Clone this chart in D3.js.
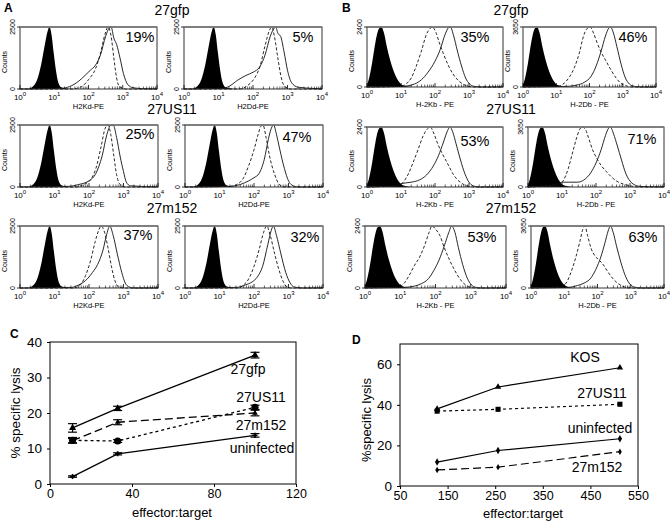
<!DOCTYPE html>
<html><head><meta charset="utf-8">
<script src="https://cdn.jsdelivr.net/npm/d3@7"></script>
<style>body{margin:0;background:#fff}svg{display:block;font-family:"Liberation Sans",Arial,sans-serif}</style>
</head><body>
<svg id="fig" width="670" height="521"></svg>
<script>
// ---------------- DATA ----------------
const rowTitles = ["27gfp", "27US11", "27m152"];
const pctA = ["19%", "5%", "25%", "47%", "37%", "32%"];
const pctB = ["35%", "46%", "53%", "71%", "53%", "63%"];
const xLabelsA = ["H2Kd-PE", "H2Dd-PE"];
const xLabelsB = ["H-2Kb - PE", "H-2Db - PE"];
const yMaxA = ["2500", "2500"];
const yMaxB = ["2400", "3650"];
const decades = [0, 1, 2, 3, 4];

// histogram curves: [log10 fluorescence, fraction of y max]
const isoA = [[0,0],[0.2,0],[0.35,0.03],[0.5,0.15],[0.62,0.4],[0.72,0.7],[0.8,0.92],[0.86,1],[0.92,0.88],[0.98,0.6],[1.05,0.3],[1.12,0.1],[1.2,0.03],[1.35,0.01],[1.6,0]];
const isoB = [[0,0.04],[0.05,0.12],[0.15,0.4],[0.25,0.75],[0.35,0.97],[0.42,1],[0.5,0.9],[0.58,0.68],[0.68,0.45],[0.78,0.27],[0.88,0.14],[0.98,0.06],[1.1,0.02],[1.3,0]];

const A1_dash = [[0,0],[1.5,0],[1.8,0.04],[2.0,0.15],[2.2,0.32],[2.35,0.58],[2.48,0.88],[2.57,1],[2.66,0.85],[2.74,0.5],[2.82,0.18],[2.9,0.04],[3.1,0],[4,0]];
const A1_solid = [[0,0],[1.2,0.01],[1.45,0.04],[1.7,0.12],[1.9,0.22],[2.05,0.3],[2.2,0.38],[2.35,0.55],[2.5,0.85],[2.6,0.98],[2.66,1],[2.74,0.82],[2.82,0.72],[2.92,0.5],[3.02,0.25],[3.15,0.07],[3.3,0.02],[3.6,0.005],[4,0]];
const A2_dash = [[0,0],[1.6,0],[1.85,0.06],[2.05,0.18],[2.2,0.36],[2.35,0.7],[2.48,0.95],[2.55,1],[2.62,0.85],[2.72,0.5],[2.82,0.18],[2.92,0.04],[3.1,0],[4,0]];
const A2_solid = [[0,0],[1.1,0.01],[1.3,0.04],[1.55,0.14],[1.8,0.22],[2.0,0.27],[2.2,0.36],[2.35,0.55],[2.5,0.85],[2.6,0.97],[2.66,1],[2.72,0.9],[2.8,0.85],[2.9,0.6],[3.0,0.3],[3.12,0.1],[3.3,0.03],[3.7,0.01],[4,0]];
const A3_dash = [[0,0],[1.6,0],[1.85,0.04],[2.05,0.12],[2.2,0.3],[2.35,0.65],[2.47,0.95],[2.55,1],[2.63,0.85],[2.72,0.5],[2.8,0.2],[2.9,0.04],[3.05,0],[4,0]];
const A3_solid = [[0,0],[1.4,0.01],[1.7,0.04],[2.0,0.1],[2.2,0.22],[2.38,0.5],[2.52,0.85],[2.62,0.99],[2.7,1],[2.8,0.8],[2.9,0.5],[3.0,0.25],[3.08,0.08],[3.2,0.02],[4,0]];
const A4_dash = [[0,0],[1.3,0.01],[1.5,0.04],[1.7,0.15],[1.85,0.35],[2.0,0.6],[2.12,0.85],[2.2,0.98],[2.26,1],[2.35,0.8],[2.45,0.5],[2.6,0.2],[2.72,0.05],[2.85,0],[4,0]];
const A4_solid = [[0,0],[1.3,0.01],[1.6,0.04],[1.85,0.1],[2.0,0.15],[2.15,0.22],[2.3,0.45],[2.42,0.78],[2.52,0.97],[2.57,1],[2.65,0.85],[2.75,0.6],[2.88,0.3],[3.0,0.1],[3.1,0.03],[3.3,0],[4,0]];
const A5_dash = [[0,0],[1.55,0],[1.75,0.05],[1.9,0.2],[2.05,0.45],[2.18,0.75],[2.28,0.93],[2.35,1],[2.45,0.9],[2.55,0.65],[2.65,0.35],[2.75,0.12],[2.85,0.02],[3.0,0],[4,0]];
const A5_solid = [[0,0],[1.5,0.01],[1.7,0.05],[1.9,0.12],[2.1,0.25],[2.25,0.38],[2.4,0.6],[2.52,0.88],[2.6,1],[2.7,0.85],[2.82,0.55],[2.95,0.25],[3.05,0.08],[3.15,0.02],[3.3,0],[4,0]];
const A6_dash = [[0,0],[1.5,0],[1.7,0.05],[1.85,0.15],[2.0,0.35],[2.15,0.62],[2.28,0.9],[2.37,1],[2.47,0.85],[2.6,0.55],[2.72,0.3],[2.85,0.1],[2.95,0.02],[3.1,0],[4,0]];
const A6_solid = [[0,0],[1.5,0.01],[1.75,0.05],[1.95,0.1],[2.1,0.18],[2.25,0.35],[2.4,0.7],[2.5,0.93],[2.56,1],[2.65,0.85],[2.78,0.55],[2.92,0.25],[3.05,0.08],[3.15,0.02],[3.4,0],[4,0]];

const B1_dash = [[0,0],[1.0,0.01],[1.15,0.05],[1.3,0.15],[1.45,0.35],[1.6,0.6],[1.75,0.88],[1.85,0.97],[1.92,1],[2.02,0.92],[2.12,0.75],[2.25,0.55],[2.4,0.35],[2.55,0.2],[2.7,0.1],[2.85,0.04],[3.0,0.01],[3.2,0],[4,0]];
const B1_solid = [[0,0],[1.0,0.01],[1.2,0.02],[1.4,0.05],[1.6,0.12],[1.8,0.25],[2.0,0.43],[2.15,0.62],[2.3,0.88],[2.4,0.99],[2.45,1],[2.55,0.85],[2.65,0.62],[2.78,0.35],[2.9,0.15],[3.02,0.05],[3.15,0.01],[3.4,0],[4,0]];
const B2_dash = [[0,0],[1.1,0.02],[1.25,0.07],[1.4,0.17],[1.55,0.33],[1.7,0.58],[1.82,0.85],[1.92,0.97],[2.02,1],[2.12,0.9],[2.22,0.75],[2.35,0.58],[2.5,0.43],[2.65,0.28],[2.8,0.15],[2.95,0.06],[3.1,0.02],[3.3,0],[4,0]];
const B2_solid = [[0,0],[1.3,0.01],[1.6,0.03],[1.85,0.08],[2.05,0.18],[2.2,0.35],[2.35,0.6],[2.48,0.85],[2.58,0.98],[2.63,1],[2.72,0.9],[2.82,0.68],[2.95,0.38],[3.08,0.15],[3.2,0.05],[3.35,0.01],[3.6,0],[4,0]];
const B3_dash = [[0,0],[0.9,0.02],[1.05,0.07],[1.2,0.2],[1.35,0.4],[1.5,0.62],[1.65,0.85],[1.78,0.97],[1.86,1],[1.96,0.9],[2.08,0.72],[2.22,0.55],[2.38,0.38],[2.55,0.2],[2.7,0.1],[2.85,0.04],[3.0,0.01],[3.2,0],[4,0]];
const B3_solid = [[0,0],[0.9,0.03],[1.05,0.06],[1.3,0.08],[1.55,0.12],[1.75,0.2],[1.95,0.35],[2.1,0.52],[2.25,0.75],[2.37,0.94],[2.44,1],[2.52,0.92],[2.62,0.72],[2.75,0.45],[2.88,0.22],[3.0,0.08],[3.12,0.02],[3.3,0],[4,0]];
const B4_dash = [[0,0],[0.9,0.03],[1.05,0.12],[1.18,0.3],[1.3,0.55],[1.42,0.8],[1.52,0.96],[1.6,1],[1.68,0.97],[1.78,0.82],[1.9,0.62],[2.02,0.48],[2.15,0.36],[2.3,0.26],[2.45,0.17],[2.6,0.1],[2.8,0.05],[3.0,0.02],[3.3,0],[4,0]];
const B4_solid = [[0,0],[0.9,0.05],[1.0,0.08],[1.2,0.08],[1.45,0.08],[1.65,0.12],[1.85,0.24],[2.0,0.4],[2.15,0.62],[2.28,0.86],[2.37,0.98],[2.42,1],[2.52,0.88],[2.62,0.7],[2.75,0.45],[2.88,0.22],[3.0,0.1],[3.12,0.04],[3.3,0.01],[4,0]];
const B5_dash = [[0,0],[0.95,0.02],[1.1,0.07],[1.25,0.2],[1.4,0.36],[1.55,0.5],[1.7,0.7],[1.82,0.9],[1.9,1],[2.0,0.95],[2.12,0.85],[2.25,0.65],[2.4,0.45],[2.55,0.28],[2.7,0.14],[2.85,0.05],[3.0,0.01],[3.2,0],[4,0]];
const B5_solid = [[0,0],[1.1,0.01],[1.4,0.03],[1.6,0.07],[1.8,0.15],[1.95,0.28],[2.1,0.45],[2.25,0.68],[2.38,0.9],[2.46,1],[2.55,0.9],[2.65,0.65],[2.77,0.38],[2.9,0.16],[3.02,0.05],[3.15,0.01],[3.3,0],[4,0]];
const B6_dash = [[0,0],[0.95,0.03],[1.1,0.12],[1.22,0.28],[1.35,0.5],[1.47,0.75],[1.56,0.95],[1.62,1],[1.7,0.85],[1.8,0.65],[1.92,0.52],[2.05,0.45],[2.18,0.37],[2.3,0.27],[2.45,0.16],[2.6,0.08],[2.75,0.03],[2.95,0],[4,0]];
const B6_solid = [[0,0],[1.1,0.01],[1.4,0.04],[1.6,0.08],[1.8,0.16],[1.95,0.3],[2.1,0.5],[2.22,0.72],[2.32,0.92],[2.39,1],[2.47,0.9],[2.57,0.68],[2.7,0.42],[2.82,0.22],[2.95,0.08],[3.08,0.02],[3.3,0],[4,0]];

// Panel C: cytotoxicity
const ratiosC = [11, 33, 100];
const seriesNamesC = ["27gfp", "27US11", "27m152", "uninfected"];
const lysisC_27gfp = [15.8, 21.3, 36.3];
const errC_27gfp = [1.2, 0.6, 0.8];
const lysisC_27US11 = [12.3, 12.1, 21.6];
const errC_27US11 = [0.8, 0.4, 0.6];
const lysisC_27m152 = [12.2, 17.4, 20.0];
const errC_27m152 = [0.6, 0.7, 0.8];
const lysisC_uninf = [2.1, 8.5, 13.7];
const errC_uninf = [0.2, 0.3, 0.5];
const xTicksC = [0, 40, 80, 120];
const yTicksC = [0, 10, 20, 30, 40];

// Panel D: cytotoxicity
const ratiosD = [128, 256, 512];
const seriesNamesD = ["KOS", "27US11", "uninfected", "27m152"];
const lysisD_KOS = [38.0, 48.8, 58.3];
const lysisD_27US11 = [36.9, 37.8, 40.3];
const lysisD_uninf = [11.8, 17.5, 23.3];
const lysisD_27m152 = [7.9, 9.3, 16.9];
const xTicksD = [50, 150, 250, 350, 450, 550];
const yTicksD = [0, 20, 40, 60];

// ---------------- DRAW ----------------
const svg = d3.select("#fig");
const FONT = '"Liberation Sans",Arial,sans-serif';

function txt(x, y, s, size, opts = {}) {
  const t = svg.append("text").attr("x", x).attr("y", y).text(s)
    .attr("font-size", size).attr("fill", "#000")
    .attr("text-anchor", opts.anchor || "start");
  if (opts.weight) t.attr("font-weight", opts.weight);
  if (opts.rotate) t.attr("transform", `rotate(-90,${x},${y})`);
  return t;
}

txt(4, 12, "A", 12, {weight: "bold"});
txt(342, 12, "B", 12, {weight: "bold"});
txt(10, 338, "C", 12, {weight: "bold"});
txt(352, 344, "D", 12, {weight: "bold"});

const titleYs = [15, 114, 213];
rowTitles.forEach((t, i) => {
  txt(172, titleYs[i], t, 14, {anchor: "middle"});
  txt(511, titleYs[i], t, 14, {anchor: "middle"});
});

const histCurvesA = [[A1_dash, A1_solid], [A2_dash, A2_solid], [A3_dash, A3_solid], [A4_dash, A4_solid], [A5_dash, A5_solid], [A6_dash, A6_solid]];
const histCurvesB = [[B1_dash, B1_solid], [B2_dash, B2_solid], [B3_dash, B3_solid], [B4_dash, B4_solid], [B5_dash, B5_solid], [B6_dash, B6_solid]];

const boxesA = [[20,157,27,89],[184,322,27,89],[20,158,125,187],[185,323,125,187],[20,158,226,288],[185,323,226,288]];
const boxesB = [[367,503,27,87],[523,656,27,87],[367,503,127,187],[528,664,127,187],[365,506,226,288],[531,664,226,288]];
const pctPosA = [[140,42],[303,42],[140,139],[297,142],[138,240],[305,242]];
const pctPosB = [[475,42],[633,42],[475,146],[642,144],[482,242],[643,242]];

function drawHist(box, iso, curves, pct, pctPos, yMax, xlab) {
  const [x0, x1, top, bot] = box;
  const x = d3.scaleLinear().domain([0, 4]).range([x0, x1]);
  const y = d3.scaleLinear().domain([0, 1]).range([bot, top]);
  const g = svg.append("g");
  g.append("path").datum(iso)
    .attr("d", d3.area().x(d => x(d[0])).y0(bot).y1(d => y(d[1])).curve(d3.curveMonotoneX))
    .attr("fill", "#000");
  const line = d3.line().x(d => x(d[0])).y(d => y(d[1])).curve(d3.curveMonotoneX);
  g.append("path").datum(curves[0]).attr("d", line).attr("fill", "none")
    .attr("stroke", "#111").attr("stroke-width", 0.9).attr("stroke-dasharray", "3,2");
  g.append("path").datum(curves[1]).attr("d", line).attr("fill", "none")
    .attr("stroke", "#111").attr("stroke-width", 0.9);
  g.append("rect").attr("x", x0).attr("y", top).attr("width", x1 - x0).attr("height", bot - top)
    .attr("fill", "none").attr("stroke", "#333").attr("stroke-width", 1);
  g.append("line").attr("x1", x0).attr("x2", x1).attr("y1", top).attr("y2", top)
    .attr("stroke", "#777").attr("stroke-width", 1.6);
  decades.forEach(k => {
    g.append("line").attr("x1", x(k)).attr("x2", x(k)).attr("y1", bot).attr("y2", bot - 4)
      .attr("stroke", "#000").attr("stroke-width", 0.8);
    if (k < 4) {
      for (let m = 2; m <= 9; m++) {
        const xv = x(k + Math.log10(m));
        g.append("line").attr("x1", xv).attr("x2", xv).attr("y1", bot).attr("y2", bot - 2.5)
          .attr("stroke", "#000").attr("stroke-width", 0.6);
      }
    }
    const t = g.append("text").attr("x", x(k)).attr("y", bot + 11).attr("font-size", 8)
      .attr("text-anchor", "middle").attr("fill", "#000");
    t.append("tspan").text("10");
    t.append("tspan").text(k).attr("font-size", 6).attr("dy", -4);
  });
  g.append("text").attr("x", (x0 + x1) / 2).attr("y", bot + 20).attr("font-size", 7.5)
    .attr("text-anchor", "middle").text(xlab);
  [[bot, "0"], [top, yMax]].forEach(([yy, s]) => {
    g.append("line").attr("x1", x0 - 3).attr("x2", x0).attr("y1", yy).attr("y2", yy).attr("stroke", "#000").attr("stroke-width", 0.8);
    g.append("text").attr("x", x0 - 5).attr("y", yy).attr("font-size", 7)
      .attr("text-anchor", "middle").attr("transform", `rotate(-90,${x0 - 5},${yy})`).text(s);
  });
  g.append("text").attr("x", x0 - 13).attr("y", (top + bot) / 2 + 4).attr("font-size", 7)
    .attr("text-anchor", "middle").attr("transform", `rotate(-90,${x0 - 13},${(top + bot) / 2 + 4})`).text("Counts");
  g.append("text").attr("x", pctPos[0]).attr("y", pctPos[1]).attr("font-size", 14.5)
    .attr("text-anchor", "middle").text(pct);
}

for (let i = 0; i < 6; i++) {
  const col = i % 2;
  drawHist(boxesA[i], isoA, histCurvesA[i], pctA[i], pctPosA[i], yMaxA[col], xLabelsA[col]);
  drawHist(boxesB[i], isoB, histCurvesB[i], pctB[i], pctPosB[i], yMaxB[col], xLabelsB[col]);
}

function frame(x, y, xt, yt) {
  const [xa, xb] = x.range(), [ya, yb] = y.range();
  svg.append("rect").attr("x", xa).attr("y", yb).attr("width", xb - xa).attr("height", ya - yb)
    .attr("fill", "none").attr("stroke", "#000").attr("stroke-width", 1);
  const gx = svg.append("g").attr("transform", `translate(0,${ya})`)
    .call(d3.axisBottom(x).tickValues(xt).tickSize(3).tickPadding(2));
  const gy = svg.append("g").attr("transform", `translate(${xa},0)`)
    .call(d3.axisLeft(y).tickValues(yt).tickSize(3).tickPadding(5));
  [gx, gy].forEach(g => {
    g.select(".domain").remove();
    g.selectAll("line").attr("stroke", "#000");
  });
  gx.selectAll("text").attr("font-size", 12.5).attr("font-family", FONT).attr("fill", "#000");
  gy.selectAll("text").attr("font-size", 13.5).attr("font-family", FONT).attr("fill", "#000");
}

// Panel C
const xC = d3.scaleLinear().domain([0, 120]).range([50, 296]);
const yC = d3.scaleLinear().domain([0, 40]).range([484, 342]);
frame(xC, yC, xTicksC, yTicksC);
const seriesC = [
  {v: lysisC_27gfp, e: errC_27gfp, dash: null, sym: d3.symbolTriangle, size: 22},
  {v: lysisC_27US11, e: errC_27US11, dash: "3,3", sym: d3.symbolCircle, size: 40},
  {v: lysisC_27m152, e: errC_27m152, dash: "8,4", sym: d3.symbolTriangle, size: 14},
  {v: lysisC_uninf, e: errC_uninf, dash: null, sym: d3.symbolCross, size: 14}
];
seriesC.forEach(s => {
  const pts = ratiosC.map((r, i) => [r, s.v[i], s.e[i]]);
  const p = svg.append("path").datum(pts)
    .attr("d", d3.line().x(d => xC(d[0])).y(d => yC(d[1])))
    .attr("fill", "none").attr("stroke", "#000").attr("stroke-width", 1.3);
  if (s.dash) p.attr("stroke-dasharray", s.dash);
  pts.forEach(d => {
    const cx = xC(d[0]), t = yC(d[1] + d[2]), b = yC(d[1] - d[2]);
    svg.append("line").attr("x1", cx).attr("x2", cx).attr("y1", t).attr("y2", b).attr("stroke", "#000").attr("stroke-width", 1.2);
    [t, b].forEach(yy => svg.append("line").attr("x1", cx - 4.5).attr("x2", cx + 4.5).attr("y1", yy).attr("y2", yy).attr("stroke", "#000").attr("stroke-width", 1.2));
    svg.append("path").attr("d", d3.symbol(s.sym, s.size)()).attr("transform", `translate(${cx},${yC(d[1])})`).attr("fill", "#000");
  });
});
const labC = [[248, 374], [261, 402], [261, 430], [262, 453]];
seriesNamesC.forEach((n, i) => txt(labC[i][0], labC[i][1], n, 14, {anchor: "middle"}));
txt(20, 413, "% specific lysis", 13.5, {anchor: "middle", rotate: true});
txt(172, 517, "effector:target", 13, {anchor: "middle"});

// Panel D
const xD = d3.scaleLinear().domain([50, 550]).range([400, 638]);
const yD = d3.scaleLinear().domain([0, 70]).range([486, 344]);
frame(xD, yD, xTicksD, yTicksD);
const seriesD = [
  {v: lysisD_KOS, dash: null, sym: d3.symbolTriangle, size: 18},
  {v: lysisD_27US11, dash: "3,3", sym: d3.symbolSquare, size: 26},
  {v: lysisD_uninf, dash: null, sym: d3.symbolDiamond, size: 16},
  {v: lysisD_27m152, dash: "8,4", sym: d3.symbolDiamond, size: 12}
];
seriesD.forEach(s => {
  const pts = ratiosD.map((r, i) => [r, s.v[i]]);
  const p = svg.append("path").datum(pts)
    .attr("d", d3.line().x(d => xD(d[0])).y(d => yD(d[1])))
    .attr("fill", "none").attr("stroke", "#000").attr("stroke-width", 1.2);
  if (s.dash) p.attr("stroke-dasharray", s.dash);
  pts.forEach(d => svg.append("path").attr("d", d3.symbol(s.sym, s.size)())
    .attr("transform", `translate(${xD(d[0])},${yD(d[1])})`).attr("fill", "#000"));
});
const labD = [[585, 362], [602, 398], [600, 433], [597, 472]];
seriesNamesD.forEach((n, i) => txt(labD[i][0], labD[i][1], n, 14, {anchor: "middle"}));
txt(371, 420, "%specific lysis", 13, {anchor: "middle", rotate: true});
txt(523, 518, "effector:target", 13, {anchor: "middle"});
</script>
</body></html>
